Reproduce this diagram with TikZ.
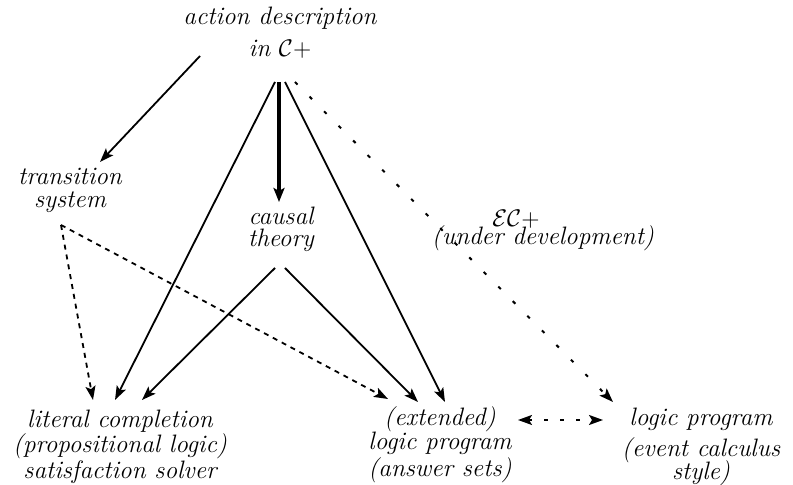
\documentclass[tikz,border=0pt]{standalone}
\usetikzlibrary{arrows.meta,calc}
\begin{document}
\begin{tikzpicture}[x=0.5pt,y=-0.5pt,
  lbl/.style={anchor=base,inner sep=0pt,font=\fontsize{12.6}{15}\selectfont\itshape},
  tip/.tip={Stealth[length=7pt,width=5pt,inset=1.5pt]},
  arr/.style={line width=0.9pt,-tip},
  thk/.style={line width=1.6pt,-{Stealth[length=7pt,width=5.5pt,inset=1.5pt]}},
  dashone/.style={dash pattern=on 2.5pt off 2.5pt},
  dotline/.style={line width=1pt,dash pattern=on 1.8pt off 8.5pt},
  dashtwo/.style={line width=0.9pt,dash pattern=on 2pt off 6pt,tip-tip}]
\useasboundingbox (0,0) rectangle (793,485);
% nodes
\node[lbl] (ad1) at (280,25) {action description};
\node[lbl] (ad) at (280,57) {in $\mathcal{C}+$};
\node[lbl] (ts1) at (70,185) {transition};
\node[lbl] (ts2) at (70,208) {system};
\node[lbl] (ct1) at (281,225) {causal};
\node[lbl] (ct2) at (281,247) {theory};
\node[lbl] (ec1) at (516,227) {$\mathcal{EC}+$};
\node[lbl] (ec2) at (543,245) {(under development)};
\node[lbl] (lc1) at (120,428) {literal completion};
\node[lbl] (lc2) at (120,453) {(propositional logic)};
\node[lbl] (lc3) at (120,479) {satisfaction solver};
\node[lbl] (lp1) at (440,426) {(extended)};
\node[lbl] (lp2) at (440,450) {logic program};
\node[lbl] (lp3) at (440,477) {(answer sets)};
\node[lbl] (ep1) at (701,426) {logic program};
\node[lbl] (ep2) at (701,457) {(event calculus};
\node[lbl] (ep3) at (701,480) {style)};
% connectors
\draw[arr] ($(ad.base)+(-80,-1)$) -- ($(ts1.base)+(30,-23)$);
\draw[thk] ($(ad.base)+(-1,25)$) -- ($(ct1.base)+(-2,-23)$);
\draw[arr] ($(ad.base)+(-5,25)$) -- ($(lc1.base)+(-5,-28)$);
\draw[arr] ($(ad.base)+(5,25)$) -- ($(lp1.base)+(5,-24)$);
\draw[arr,dotline] ($(ad.base)+(15,25)$) -- ($(ep1.base)+(-88,-24)$);
\draw[arr] ($(ct2.base)+(-6,21)$) -- ($(lc1.base)+(22,-28)$);
\draw[arr] ($(ct2.base)+(4,21)$) -- ($(lp1.base)+(-22,-24)$);
\draw[arr,dashone] ($(ts2.base)+(-9,17)$) -- ($(lc1.base)+(-27,-28)$);
\draw[arr,dashone] ($(ts2.base)+(-9,17)$) -- ($(lp1.base)+(-52,-27)$);
\draw[dashtwo] ($(lp1.base)+(78,-6)$) -- ($(ep1.base)+(-98,-6)$);
\end{tikzpicture}
\end{document}
